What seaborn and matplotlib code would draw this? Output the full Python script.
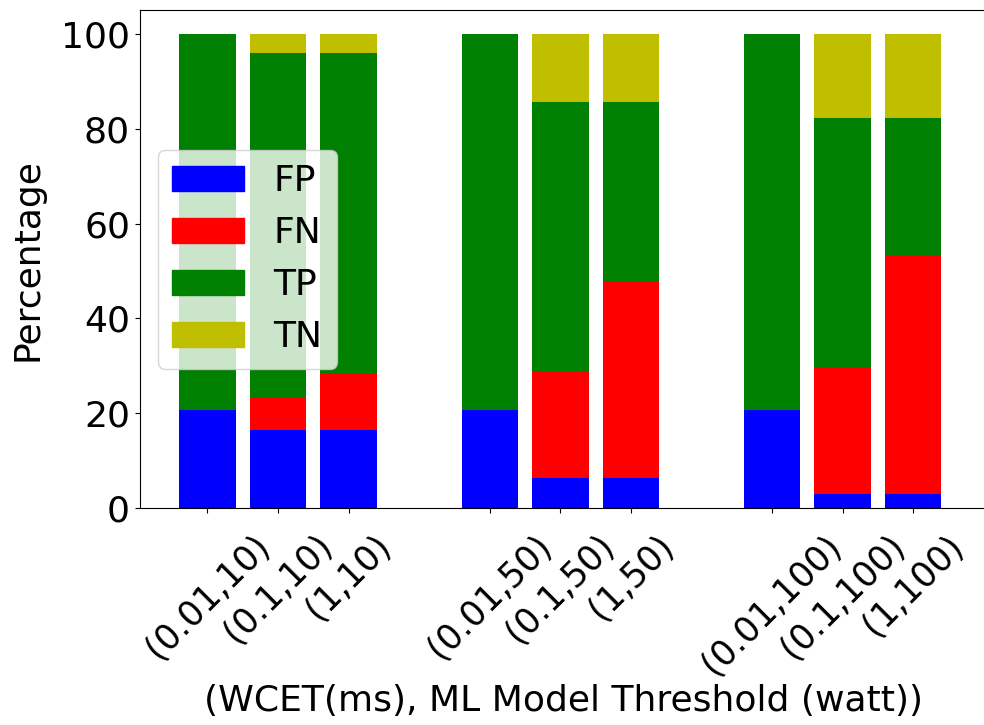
import pandas as pd
import matplotlib
matplotlib.use("Agg")
import matplotlib.pyplot as plt
from matplotlib.patches import Patch
import seaborn as sns

# (WCET, threshold) configurations, grouped by threshold
configs = ["(0.01,10)", "(0.1,10)", "(1,10)",
           "(0.01,50)", "(0.1,50)", "(1,50)",
           "(0.01,100)", "(0.1,100)", "(1,100)"]
positions = [0, 1, 2, 4, 5, 6, 8, 9, 10]

# percentages per outcome
fp = [20.7, 16.5, 16.5, 20.7, 6.3, 6.3, 20.7, 3.1, 3.1]
fn = [0.0, 6.7, 12.0, 0.0, 22.4, 41.4, 0.0, 26.7, 50.3]
tp = [79.3, 72.7, 67.4, 79.3, 57.0, 38.0, 79.3, 52.4, 28.8]
tn = [0.0, 4.1, 4.1, 0.0, 14.3, 14.3, 0.0, 17.8, 17.8]

segments = ["FP", "FN", "TP", "TN"]
colors = {"FP": "b", "FN": "r", "TP": "g", "TN": "y"}

df = pd.DataFrame({"pos": positions, "config": configs,
                   "FP": fp, "FN": fn, "TP": tp, "TN": tn})
# cumulative tops so the stacks can be drawn tallest first
df["FP_top"] = df["FP"]
df["FN_top"] = df["FP_top"] + df["FN"]
df["TP_top"] = df["FN_top"] + df["TP"]
df["TN_top"] = df["TP_top"] + df["TN"]

plt.rcParams["font.family"] = ["DejaVu Sans"]
plt.rcParams["font.size"] = 26

fig = plt.figure(figsize=(9.84, 7.25), dpi=100)
# the source figure is cropped just before the right spine
ax = fig.add_axes([0.142, 0.299, 0.862, 0.687])

for seg in reversed(segments):
    sns.barplot(data=df, x="pos", y=f"{seg}_top", native_scale=True,
                color=colors[seg], saturation=1, linewidth=0,
                errorbar=None, width=0.8, ax=ax)

ax.set_xticks(positions)
ax.set_xticklabels(configs, rotation=45, ha="center", fontsize=25)
ax.tick_params(axis="x", pad=11)
ax.set_xlim(-0.96, 11.06)
ax.set_ylim(0, 105)
ax.set_yticks([0, 20, 40, 60, 80, 100])
ax.set_xlabel("(WCET(ms), ML Model Threshold (watt))", labelpad=2)
ax.set_ylabel("Percentage", labelpad=12)

handles = [Patch(color=colors[s], label=s) for s in segments]
ax.legend(handles=handles, loc="center left")

fig.savefig("out.png", dpi=100)
